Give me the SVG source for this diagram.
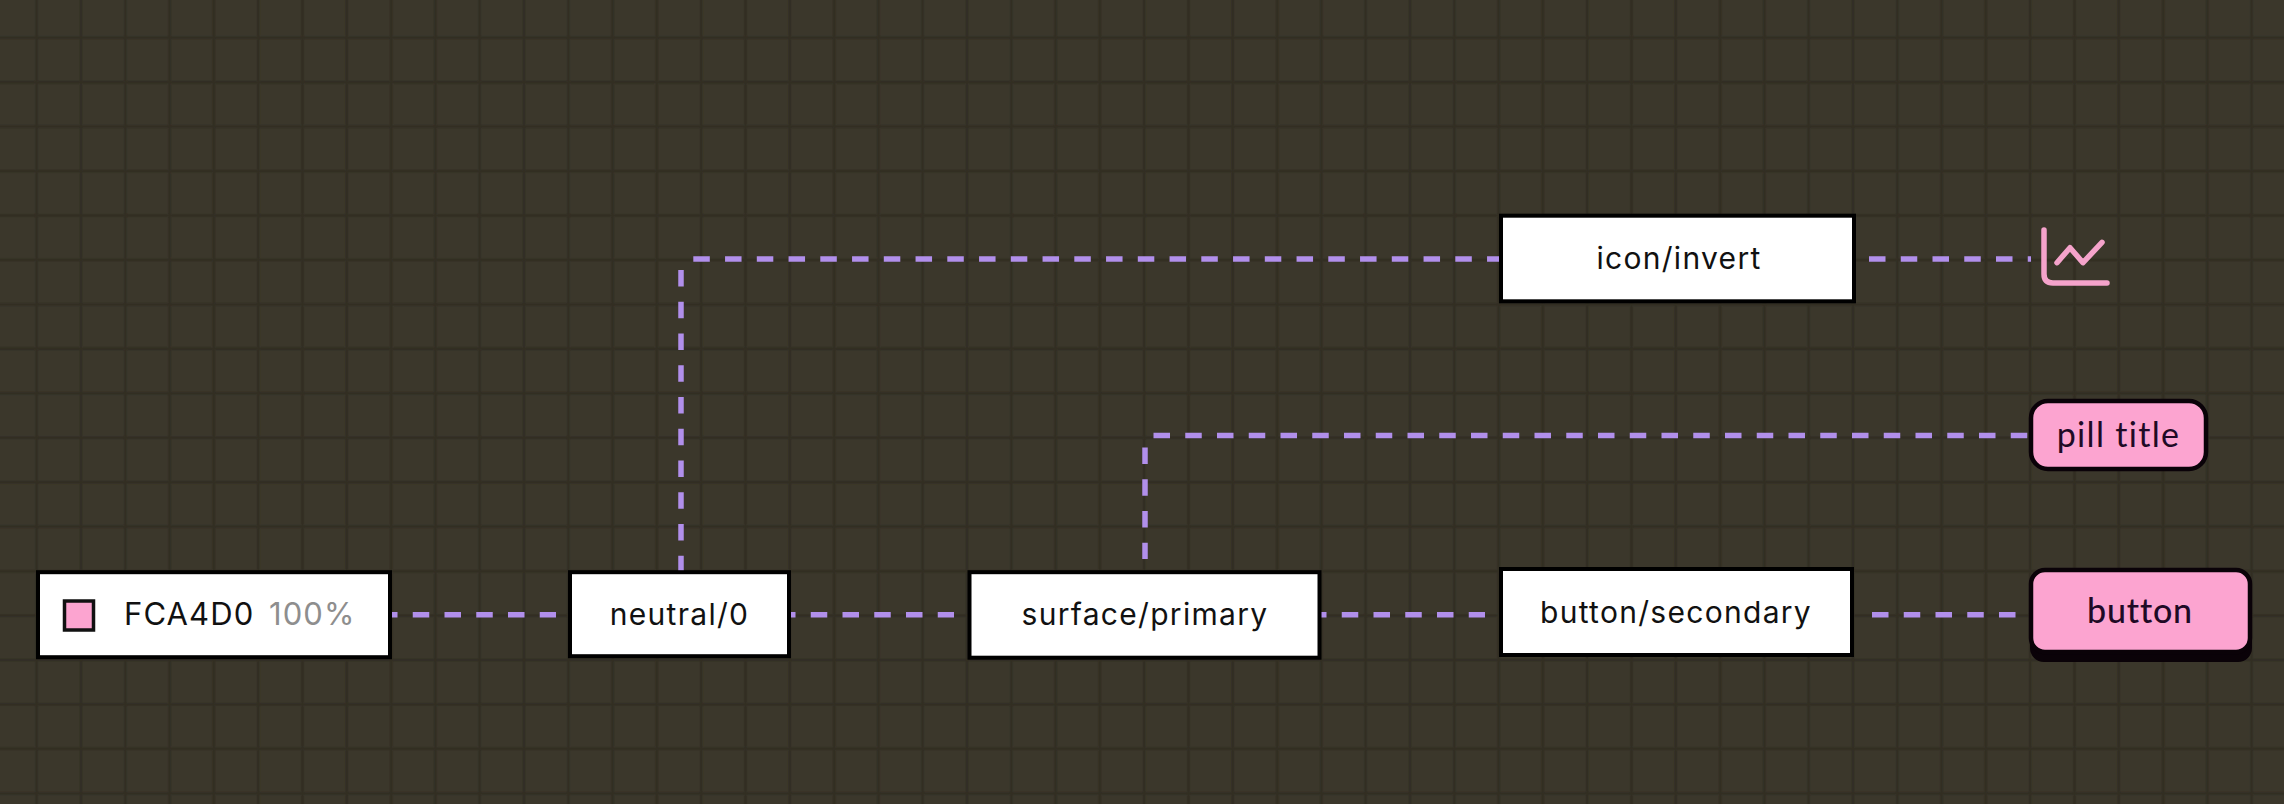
<svg xmlns="http://www.w3.org/2000/svg" width="2284" height="804" viewBox="0 0 2284 804">
<style>
.box{fill:#fff;stroke:#000;stroke-width:4}
.pink{fill:#FCA4D0;stroke:#0a0208;stroke-width:4.500}
.lbl{font-family:"Inter","Liberation Sans",sans-serif;font-size:30px;fill:#111;text-anchor:middle;letter-spacing:1.300px}
.plbl{font-family:"Lato","Noto Sans",sans-serif;font-size:34px;fill:#1f0a26;text-anchor:middle;letter-spacing:1.300px}
.conn{fill:none;stroke:#B18FEB;stroke-width:5.500;stroke-dasharray:16.500 15.250}
.grid{fill:none;stroke:#322E24;stroke-width:3}
</style>
<defs>
<pattern id="g" patternUnits="userSpaceOnUse" x="36.700" y="37.700" width="44.300" height="44.450">
<path class="grid" d="M0 0V44.450M0 0H44.300M44.300 0V44.450M0 44.450H44.300"/>
</pattern>
<filter id="soft" x="0" y="0" width="1" height="1"><feGaussianBlur stdDeviation="0.700"/></filter>
</defs>
<rect width="2284" height="804" fill="#3B372B"/>
<rect width="2284" height="804" fill="url(#g)" filter="url(#soft)"/>
<g id="connectors" class="conn">
<path d="M381 614.700H556"/>
<path d="M779 614.700H954"/>
<path d="M1310 614.700H1485"/>
<path d="M1872 614.700H2016"/>
<path d="M681 270V571"/>
<path d="M693.300 259H1500"/>
<path d="M1869 259H2031"/>
<path d="M1145 447.600V559"/>
<path d="M1153.500 435.500H2028"/>
</g>
<g id="node-color">
<rect class="box" x="38" y="572.200" width="352" height="85"/>
<rect x="64.500" y="601" width="29" height="29" fill="#FCA4D0" stroke="#111" stroke-width="3.500"/>
<text x="124" y="625" font-family="Inter,'Liberation Sans',sans-serif" font-size="31" letter-spacing="1.100" fill="#111">FCA4D0 <tspan x="269" fill="#8e8e8e">100%</tspan></text>
</g>
<g id="node-neutral">
<rect class="box" x="570" y="572.200" width="219" height="84"/>
<text class="lbl" x="679.500" y="625">neutral/0</text>
</g>
<g id="node-surface">
<rect class="box" x="969.500" y="572.200" width="350" height="85.500"/>
<text class="lbl" x="1145" y="625">surface/primary</text>
</g>
<g id="node-secondary">
<rect class="box" x="1501" y="569" width="351" height="86"/>
<text class="lbl" x="1676" y="622.700">button/secondary</text>
</g>
<g id="node-invert">
<rect class="box" x="1501" y="215.700" width="353" height="85.600"/>
<text class="lbl" x="1679" y="269">icon/invert</text>
</g>
<g id="node-chart" fill="none" stroke="#F5A3CB" stroke-width="5.500" stroke-linecap="round" stroke-linejoin="round">
<path d="M2044 230V274Q2044 283 2053 283H2107"/>
<path d="M2057 262.700L2070 247.700L2083 262.700L2102 242.300"/>
</g>
<g id="node-pill">
<rect class="pink" x="2031" y="401" width="175" height="68" rx="17"/>
<text class="plbl" x="2118.500" y="447">pill title</text>
</g>
<g id="node-button">
<rect x="2030" y="572" width="222" height="90" rx="14" fill="#0a0208"/>
<rect class="pink" x="2031" y="570" width="219" height="82" rx="14"/>
<text class="plbl" x="2140" y="623" font-weight="500" style="letter-spacing:.8px">button</text>
</g>
</svg>
